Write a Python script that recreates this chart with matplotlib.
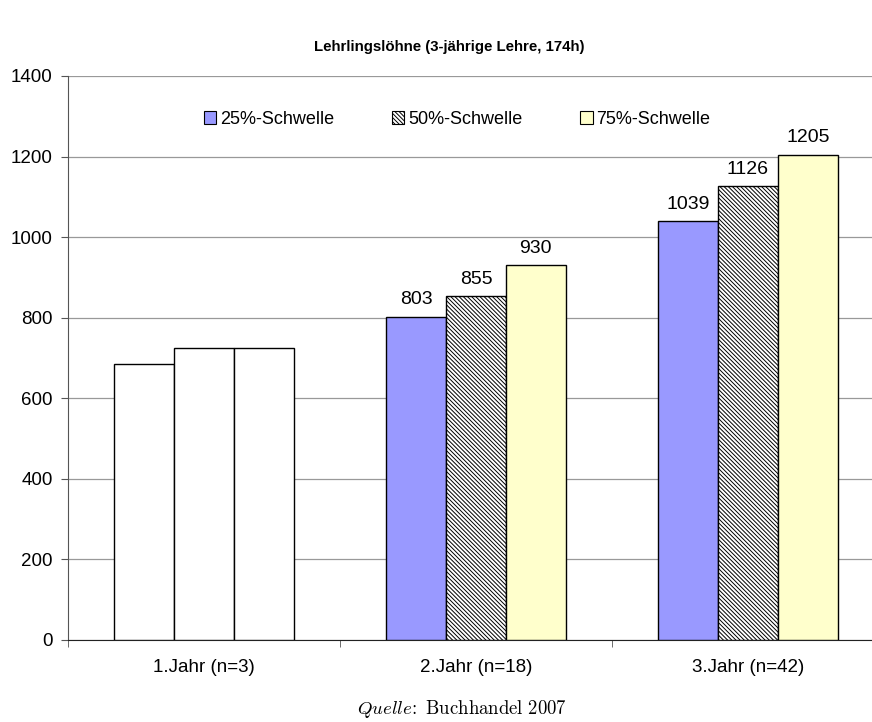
import matplotlib.pyplot as plt
import numpy as np

plt.rcParams['font.family'] = ['Liberation Sans', 'DejaVu Sans']
plt.rcParams['mathtext.fontset'] = 'cm'
plt.rcParams['hatch.linewidth'] = 0.7

categories = ["1.Jahr (n=3)", "2.Jahr (n=18)", "3.Jahr (n=42)"]
series = ["25%-Schwelle", "50%-Schwelle", "75%-Schwelle"]
p25 = [685, 803, 1039]
p50 = [725, 855, 1126]
p75 = [725, 930, 1205]
show_labels = [False, True, True]

fig = plt.figure(figsize=(8.72, 7.22), dpi=100)
ax = fig.add_axes([68 / 872, 82 / 722, 816 / 872, 564 / 722])

x = np.arange(len(categories))
w = 0.22
hatch50 = "\\\\\\\\\\\\\\\\"
styles = [
    dict(color="#9999ff", hatch=None),
    dict(color="white", hatch=hatch50),
    dict(color="#ffffcc", hatch=None),
]

for i, (name, vals, st) in enumerate(zip(series, [p25, p50, p75], styles)):
    for j, v in enumerate(vals):
        # first year: plain white boxes
        face = st["color"] if j > 0 else "white"
        hatch = st["hatch"] if j > 0 else None
        ax.bar(x[j] + (i - 1) * w, v, w, facecolor=face, edgecolor="black",
               hatch=hatch, linewidth=1.0, zorder=3)
        if show_labels[j]:
            ax.text(x[j] + (i - 1) * w, v + 20, str(v), ha="center",
                    va="bottom", fontsize=14, zorder=4)

ax.set_xlim(-0.5, 2.5)
ax.set_ylim(0, 1400)
ax.set_yticks(range(0, 1401, 200))
ax.yaxis.grid(True, color="#999999", linewidth=0.9, zorder=0)
ax.set_xticks(x)
ax.set_xticklabels(categories, fontsize=13.5)
ax.tick_params(axis="x", length=0, pad=14)
ax.set_xticks([-0.5, 0.5, 1.5, 2.5], minor=True)
ax.tick_params(axis="x", which="minor", length=5, direction="out", color="#555555")
ax.tick_params(axis="y", labelsize=13.5, length=5, pad=6, color="#555555")

for s in ["top", "right"]:
    ax.spines[s].set_visible(False)
ax.spines["left"].set_color("#555555")
ax.spines["bottom"].set_color("#222222")

handles = [
    plt.Rectangle((0, 0), 1, 1, facecolor="#9999ff", edgecolor="black", linewidth=0.8),
    plt.Rectangle((0, 0), 1, 1, facecolor="white", edgecolor="black", hatch=hatch50, linewidth=0.8),
    plt.Rectangle((0, 0), 1, 1, facecolor="#ffffcc", edgecolor="black", linewidth=0.8),
]
fig.legend(handles, series, loc="center", bbox_to_anchor=(457 / 872, 1 - 119 / 722),
           ncol=3, frameon=False, fontsize=13, handlelength=0.7, handleheight=0.7,
           handletextpad=0.2, columnspacing=3.2)

fig.text(449 / 872, 1 - 47 / 722, "Lehrlingslöhne (3-jährige Lehre, 174h)",
         ha="center", va="center", fontsize=10.8, fontweight="bold")
fig.text(462 / 872, 1 - 709 / 722, r"$\mathit{Quelle}\!:\ \mathrm{Buchhandel\ 2007}$",
         ha="center", va="center", fontsize=13.5)

fig.savefig("out.png", dpi=100)
